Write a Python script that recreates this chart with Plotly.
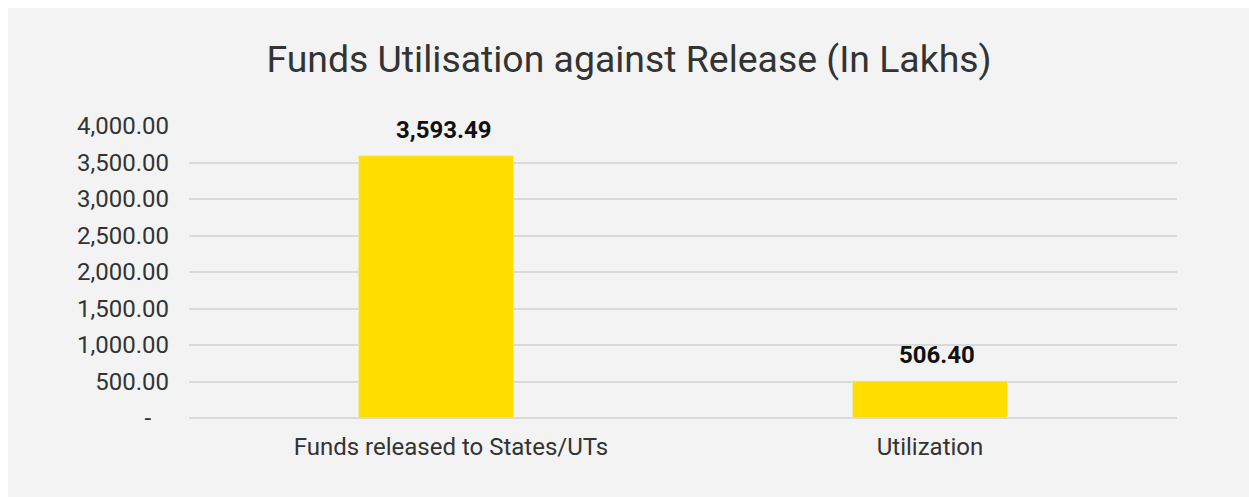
import plotly.graph_objects as go

categories = ["Funds released to States/UTs", "Utilization"]
category_text = ["\u00a0" * 5 + "Funds released to States/UTs", "Utilization"]
values = [3593.49, 506.40]
value_labels = ["3,593.49", "506.40"]
tick_vals = [0, 500, 1000, 1500, 2000, 2500, 3000, 3500, 4000]
tick_text = ["-\u00a0\u00a0\u00a0", "500.00", "1,000.00", "1,500.00", "2,000.00",
             "2,500.00", "3,000.00", "3,500.00", "4,000.00"]

W, H = 1249, 497
ml, mr, mt, mb = 189, 72, 126, 79
pw, ph = W - ml - mr, H - mt - mb
bg = "#f2f3f2"

fig = go.Figure(go.Bar(
    x=categories, y=values, marker_color="#ffde00", width=0.314,
    hoverinfo="skip",
))

for c, v, t in zip(categories, values, value_labels):
    fig.add_annotation(x=c, y=v, text="<b>" + t + "</b>", showarrow=False,
                       yanchor="bottom", yshift=10, xshift=7,
                       font=dict(family="Roboto", size=24, color="#111111"))

# white strips at top and left outside the grey panel
fig.add_shape(type="rect", xref="paper", yref="paper", layer="below",
              x0=-ml / pw, x1=(W - ml) / pw, y0=(H - mb - 8) / ph, y1=(H - mb) / ph,
              fillcolor="white", line_width=0)
fig.add_shape(type="rect", xref="paper", yref="paper", layer="below",
              x0=-ml / pw, x1=(8 - ml) / pw, y0=-mb / ph, y1=(H - mb) / ph,
              fillcolor="white", line_width=0)

fig.update_layout(
    width=W, height=H,
    margin=dict(l=ml, r=mr, t=mt, b=mb),
    paper_bgcolor=bg, plot_bgcolor=bg,
    font=dict(family="Roboto", color="#333333"),
    title=dict(text="Funds Utilisation against Release (In Lakhs)",
               x=629 / W, xanchor="center", y=1 - 59 / H, yanchor="middle",
               font=dict(family="Roboto", size=37.4, color="#333333")),
    showlegend=False,
)
fig.update_yaxes(range=[0, 4000], tickvals=tick_vals, ticktext=tick_text,
                 showgrid=True, gridcolor="#d9d9d9", gridwidth=1.5,
                 zeroline=True, zerolinecolor="#d9d9d9", zerolinewidth=1.5,
                 showline=False, ticks="", ticklabelstandoff=19,
                 tickfont=dict(family="Roboto", size=24, color="#333333"))
fig.update_xaxes(tickvals=categories, ticktext=category_text,
                 showgrid=False, showline=False, ticks="", ticklabelstandoff=12,
                 tickfont=dict(family="Roboto", size=24, color="#333333"))

fig.write_html("out.html", config={"displayModeBar": False},
               post_script="document.body.style.margin='0';")
